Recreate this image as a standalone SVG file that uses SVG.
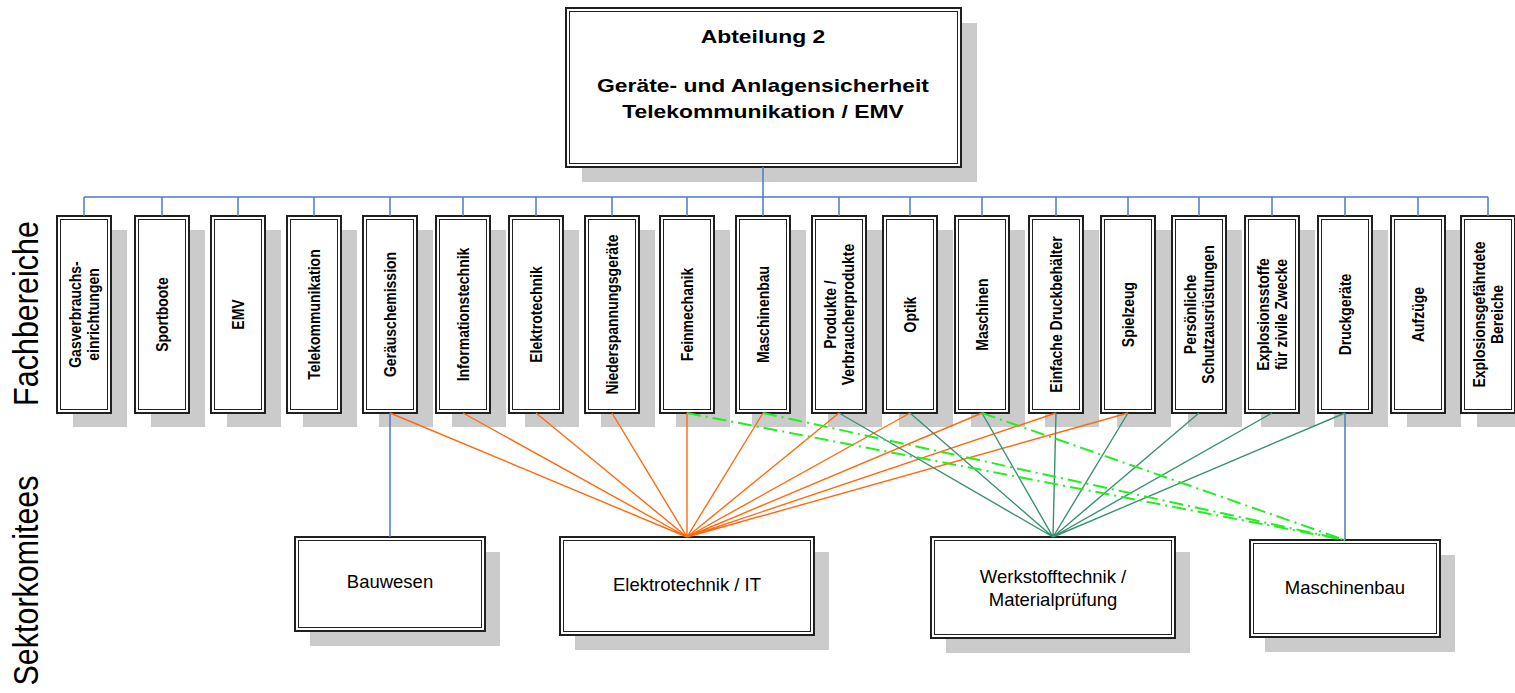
<svg xmlns="http://www.w3.org/2000/svg" width="1515" height="693" viewBox="0 0 1515 693">
<style>
.sh{fill:#cbcbcb}
.ob{fill:#fff;stroke:#202020;stroke-width:2}
.ib{fill:none;stroke:#202020;stroke-width:1}
.t{font-family:"Liberation Sans",Arial,sans-serif;fill:#000}
.b{font-weight:bold}
.vt{font-size:14px;font-weight:bold}
.bt{font-size:18.5px}
.lab{font-size:30.5px}
.bus{stroke:#4a7bc8;stroke-width:1.5;fill:none}
.or{stroke:#ff6a10;stroke-width:1.4;fill:none}
.tl{stroke:#3a9070;stroke-width:1.4;fill:none}
.lm{stroke:#22ee22;stroke-width:2;stroke-dasharray:14 5 2 5;fill:none}
</style>
<rect width="1515" height="693" fill="#fff"/>

<g id="labels">
<text class="t lab" text-anchor="middle" transform="translate(25.5,313.5) scale(1.15,1) rotate(-90)" y="10.9">Fachbereiche</text>
<text class="t lab" text-anchor="middle" transform="translate(25.5,580.5) scale(1.15,1) rotate(-90)" y="10.9">Sektorkomitees</text>
</g>

<g id="n-abteilung">
<rect class="sh" x="582" y="23" width="395" height="159"/>
<rect class="ob" x="566" y="8" width="395" height="159"/>
<rect class="ib" x="569.5" y="11.5" width="388" height="152"/>
<text class="t b" font-size="18.6" text-anchor="middle" transform="translate(763,0) scale(1.23,1)"><tspan x="0" y="43">Abteilung 2</tspan><tspan x="0" y="92.5">Geräte- und Anlagensicherheit</tspan><tspan x="0" y="118.5">Telekommunikation / EMV</tspan></text>
</g>

<g id="fb-gas"><rect class="sh" x="73" y="230" width="54" height="197"/><rect class="ob" x="57" y="216" width="54" height="197"/><rect class="ib" x="60.5" y="219.5" width="47" height="190"/>
<text class="t vt" text-anchor="middle" transform="translate(84,314.5) scale(1.23,1) rotate(-90)"><tspan x="0" y="-2.5">Gasverbrauchs-</tspan><tspan x="0" y="12.5">einrichtungen</tspan></text></g>
<g id="fb-sportboote"><rect class="sh" x="151" y="230" width="54" height="197"/><rect class="ob" x="135" y="216" width="54" height="197"/><rect class="ib" x="138.5" y="219.5" width="47" height="190"/>
<text class="t vt" text-anchor="middle" transform="translate(162,314.5) scale(1.23,1) rotate(-90)" y="5">Sportboote</text></g>
<g id="fb-emv"><rect class="sh" x="227" y="230" width="54" height="197"/><rect class="ob" x="211" y="216" width="54" height="197"/><rect class="ib" x="214.5" y="219.5" width="47" height="190"/>
<text class="t vt" text-anchor="middle" transform="translate(238,314.5) scale(1.23,1) rotate(-90)" y="5">EMV</text></g>
<g id="fb-telekom"><rect class="sh" x="303" y="230" width="54" height="197"/><rect class="ob" x="287" y="216" width="54" height="197"/><rect class="ib" x="290.5" y="219.5" width="47" height="190"/>
<text class="t vt" text-anchor="middle" transform="translate(314,314.5) scale(1.23,1) rotate(-90)" y="5">Telekommunikation</text></g>
<g id="fb-geraeusch"><rect class="sh" x="379" y="230" width="54" height="197"/><rect class="ob" x="363" y="216" width="54" height="197"/><rect class="ib" x="366.5" y="219.5" width="47" height="190"/>
<text class="t vt" text-anchor="middle" transform="translate(390,314.5) scale(1.23,1) rotate(-90)" y="5">Geräuschemission</text></g>
<g id="fb-info"><rect class="sh" x="452" y="230" width="54" height="197"/><rect class="ob" x="436" y="216" width="54" height="197"/><rect class="ib" x="439.5" y="219.5" width="47" height="190"/>
<text class="t vt" text-anchor="middle" transform="translate(463,314.5) scale(1.23,1) rotate(-90)" y="5">Informationstechnik</text></g>
<g id="fb-elektro"><rect class="sh" x="525" y="230" width="54" height="197"/><rect class="ob" x="509" y="216" width="54" height="197"/><rect class="ib" x="512.5" y="219.5" width="47" height="190"/>
<text class="t vt" text-anchor="middle" transform="translate(536,314.5) scale(1.23,1) rotate(-90)" y="5">Elektrotechnik</text></g>
<g id="fb-nieder"><rect class="sh" x="601" y="230" width="54" height="197"/><rect class="ob" x="585" y="216" width="54" height="197"/><rect class="ib" x="588.5" y="219.5" width="47" height="190"/>
<text class="t vt" text-anchor="middle" transform="translate(612,314.5) scale(1.23,1) rotate(-90)" y="5">Niederspannungsgeräte</text></g>
<g id="fb-fein"><rect class="sh" x="676" y="230" width="54" height="197"/><rect class="ob" x="660" y="216" width="54" height="197"/><rect class="ib" x="663.5" y="219.5" width="47" height="190"/>
<text class="t vt" text-anchor="middle" transform="translate(687,314.5) scale(1.23,1) rotate(-90)" y="5">Feinmechanik</text></g>
<g id="fb-maschinenbau"><rect class="sh" x="752" y="230" width="54" height="197"/><rect class="ob" x="736" y="216" width="54" height="197"/><rect class="ib" x="739.5" y="219.5" width="47" height="190"/>
<text class="t vt" text-anchor="middle" transform="translate(763,314.5) scale(1.23,1) rotate(-90)" y="5">Maschinenbau</text></g>
<g id="fb-produkte"><rect class="sh" x="828" y="230" width="54" height="197"/><rect class="ob" x="812" y="216" width="54" height="197"/><rect class="ib" x="815.5" y="219.5" width="47" height="190"/>
<text class="t vt" text-anchor="middle" transform="translate(839,314.5) scale(1.23,1) rotate(-90)"><tspan x="0" y="-2.5">Produkte /</tspan><tspan x="0" y="12.5">Verbraucherprodukte</tspan></text></g>
<g id="fb-optik"><rect class="sh" x="899" y="230" width="54" height="197"/><rect class="ob" x="883" y="216" width="54" height="197"/><rect class="ib" x="886.5" y="219.5" width="47" height="190"/>
<text class="t vt" text-anchor="middle" transform="translate(910,314.5) scale(1.23,1) rotate(-90)" y="5">Optik</text></g>
<g id="fb-maschinen"><rect class="sh" x="971" y="230" width="54" height="197"/><rect class="ob" x="955" y="216" width="54" height="197"/><rect class="ib" x="958.5" y="219.5" width="47" height="190"/>
<text class="t vt" text-anchor="middle" transform="translate(982,314.5) scale(1.23,1) rotate(-90)" y="5">Maschinen</text></g>
<g id="fb-druckbehaelter"><rect class="sh" x="1045" y="230" width="54" height="197"/><rect class="ob" x="1029" y="216" width="54" height="197"/><rect class="ib" x="1032.5" y="219.5" width="47" height="190"/>
<text class="t vt" text-anchor="middle" transform="translate(1056,314.5) scale(1.23,1) rotate(-90)" y="5">Einfache Druckbehälter</text></g>
<g id="fb-spielzeug"><rect class="sh" x="1117" y="230" width="54" height="197"/><rect class="ob" x="1101" y="216" width="54" height="197"/><rect class="ib" x="1104.5" y="219.5" width="47" height="190"/>
<text class="t vt" text-anchor="middle" transform="translate(1128,314.5) scale(1.23,1) rotate(-90)" y="5">Spielzeug</text></g>
<g id="fb-psa"><rect class="sh" x="1188" y="230" width="54" height="197"/><rect class="ob" x="1172" y="216" width="54" height="197"/><rect class="ib" x="1175.5" y="219.5" width="47" height="190"/>
<text class="t vt" text-anchor="middle" transform="translate(1199,314.5) scale(1.23,1) rotate(-90)"><tspan x="0" y="-2.5">Persönliche</tspan><tspan x="0" y="12.5">Schutzausrüstungen</tspan></text></g>
<g id="fb-explosivstoffe"><rect class="sh" x="1261" y="230" width="54" height="197"/><rect class="ob" x="1245" y="216" width="54" height="197"/><rect class="ib" x="1248.5" y="219.5" width="47" height="190"/>
<text class="t vt" text-anchor="middle" transform="translate(1272,314.5) scale(1.23,1) rotate(-90)"><tspan x="0" y="-2.5">Explosionsstoffe</tspan><tspan x="0" y="12.5">für zivile Zwecke</tspan></text></g>
<g id="fb-druckgeraete"><rect class="sh" x="1334" y="230" width="54" height="197"/><rect class="ob" x="1318" y="216" width="54" height="197"/><rect class="ib" x="1321.5" y="219.5" width="47" height="190"/>
<text class="t vt" text-anchor="middle" transform="translate(1345,314.5) scale(1.23,1) rotate(-90)" y="5">Druckgeräte</text></g>
<g id="fb-aufzuege"><rect class="sh" x="1407" y="230" width="54" height="197"/><rect class="ob" x="1391" y="216" width="54" height="197"/><rect class="ib" x="1394.5" y="219.5" width="47" height="190"/>
<text class="t vt" text-anchor="middle" transform="translate(1418,314.5) scale(1.23,1) rotate(-90)" y="5">Aufzüge</text></g>
<g id="fb-exbereiche"><rect class="sh" x="1477" y="230" width="54" height="197"/><rect class="ob" x="1461" y="216" width="54" height="197"/><rect class="ib" x="1464.5" y="219.5" width="47" height="190"/>
<text class="t vt" text-anchor="middle" transform="translate(1488,314.5) scale(1.23,1) rotate(-90)"><tspan x="0" y="-2.5">Explosionsgefährdete</tspan><tspan x="0" y="12.5">Bereiche</tspan></text></g>

<g id="sk-bauwesen"><rect class="sh" x="310" y="552" width="190" height="94"/><rect class="ob" x="295" y="537" width="190" height="94"/><rect class="ib" x="298.5" y="540.5" width="183" height="87"/>
<text class="t bt" text-anchor="middle" x="390" y="588">Bauwesen</text></g>
<g id="sk-elektro"><rect class="sh" x="575" y="552" width="254" height="98"/><rect class="ob" x="560" y="537" width="254" height="98"/><rect class="ib" x="563.5" y="540.5" width="247" height="91"/>
<text class="t bt" text-anchor="middle" x="687" y="591">Elektrotechnik / IT</text></g>
<g id="sk-werkstoff"><rect class="sh" x="946" y="552" width="244" height="101"/><rect class="ob" x="931" y="537" width="244" height="101"/><rect class="ib" x="934.5" y="540.5" width="237" height="94"/>
<text class="t bt" text-anchor="middle"><tspan x="1053" y="583">Werkstofftechnik /</tspan><tspan x="1053" y="606">Materialprüfung</tspan></text></g>
<g id="sk-maschinenbau"><rect class="sh" x="1265" y="555" width="190" height="97"/><rect class="ob" x="1250" y="540" width="190" height="97"/><rect class="ib" x="1253.5" y="543.5" width="183" height="90"/>
<text class="t bt" text-anchor="middle" x="1345" y="594">Maschinenbau</text></g>

<g id="connectors">
<path class="bus" d="M84 197H1488M84 197V216M162 197V216M238 197V216M314 197V216M390 197V216M463 197V216M536 197V216M612 197V216M687 197V216M763 197V216M839 197V216M910 197V216M982 197V216M1056 197V216M1128 197V216M1199 197V216M1272 197V216M1345 197V216M1418 197V216M1488 197V216"/>
<path class="bus" stroke-width="2.5" d="M763 167V197"/>
<path class="bus" d="M390 413V537M1345 413V540"/>
<path class="or" d="M390 413L687 537M463 413L687 537M536 413L687 537M612 413L687 537M687 413L687 537M763 413L687 537M839 413L687 537M910 413L687 537M982 413L687 537M1056 413L687 537M1128 413L687 537"/>
<path class="tl" d="M839 413L1053 537M910 413L1053 537M982 413L1053 537M1056 413L1053 537M1128 413L1053 537M1199 413L1053 537M1272 413L1053 537M1345 413L1053 537"/>
<path class="lm" d="M687 413L1345 540"/>
<path class="lm" d="M763 413L1345 540"/>
<path class="lm" d="M982 413L1345 540"/>
</g>
</svg>
